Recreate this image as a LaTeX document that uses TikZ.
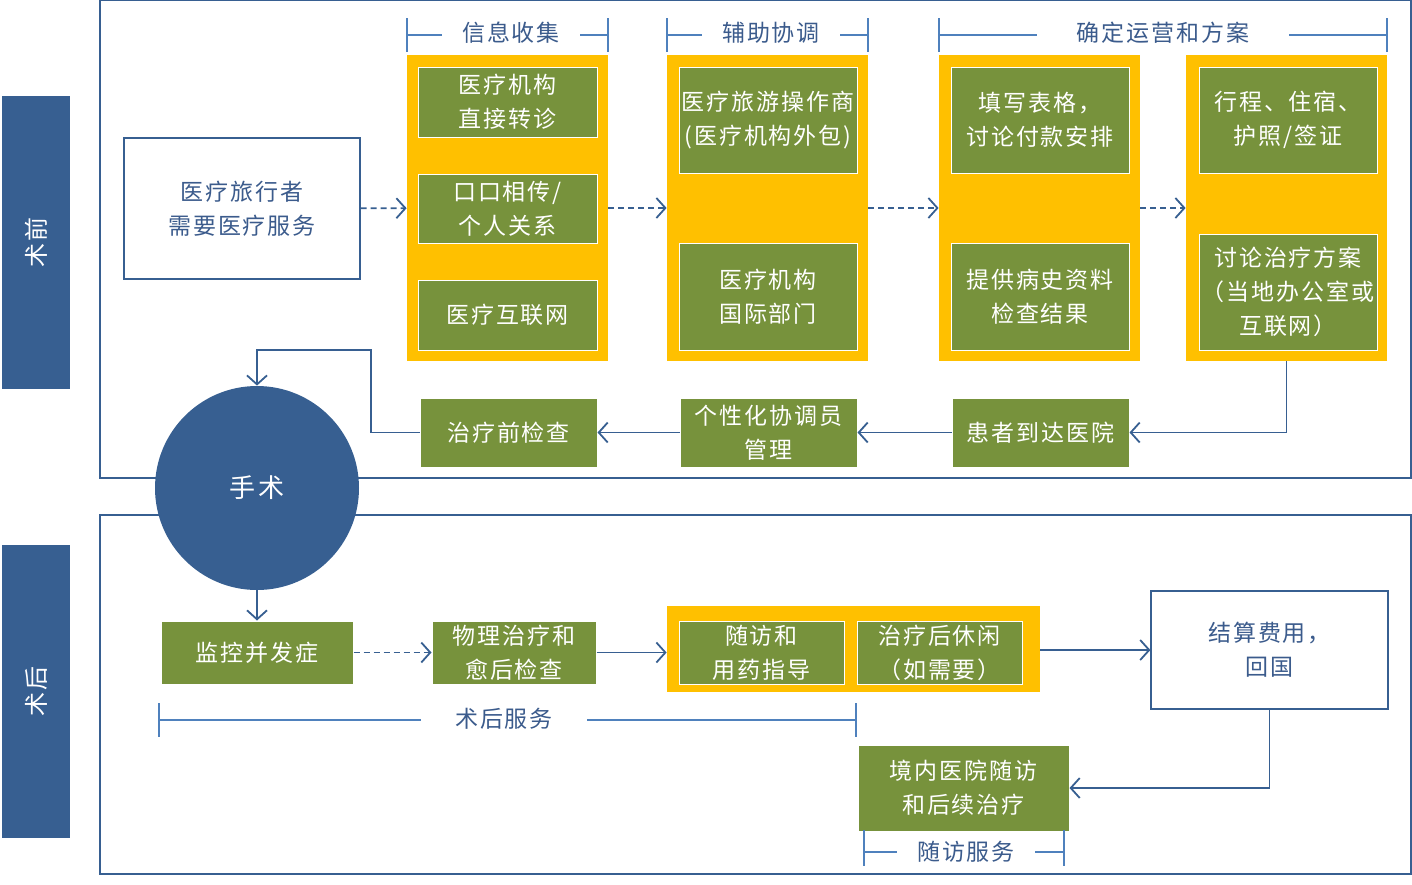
\documentclass[tikz,border=0pt]{standalone}
\usepackage{fontspec}
\setmainfont{Noto Sans CJK SC}[LetterSpace=8]
\usepackage{xcolor}
\usetikzlibrary{positioning,arrows.meta}

\definecolor{navy}{HTML}{375F91}
\definecolor{lineblue}{HTML}{4F81BD}
\definecolor{textblue}{HTML}{3B5B8C}
\definecolor{orangefill}{HTML}{FFC000}
\definecolor{olive}{HTML}{77923C}

\begin{document}
\begin{tikzpicture}[x=0.5pt,y=-0.5pt,
      size/.style 2 args={minimum width=#1pt,minimum height=#2pt},
      gbox/.style={rectangle,draw=white,line width=0.5pt,fill=olive,text=white,align=center,inner sep=0pt,font=\fontsize{11.5}{17}\selectfont},
      wbox/.style={rectangle,draw=navy,line width=0.6pt,fill=white,text=textblue,align=center,inner sep=0pt,font=\fontsize{11.5}{17}\selectfont},
      group/.style={rectangle,fill=orangefill,inner sep=0pt},
      sidebar/.style={rectangle,fill=navy,inner sep=0pt,text=white,font=\fontsize{12}{14}\selectfont},
      arrow/.style={-{Straight Barb[length=4.5pt,width=10pt]},draw=navy,line width=0.9pt},
      dasharrow/.style={arrow,dash pattern=on 3pt off 2pt},
      bracket/.style={draw=lineblue,line width=0.9pt},
      blabel/.style={fill=white,text=textblue,inner xsep=10pt,inner ysep=1pt,font=\fontsize{11.5}{14}\selectfont}
      ]

      \useasboundingbox (0,0) rectangle (1412,884);

      % frames
      \draw[navy,line width=0.6pt] (100,0) rectangle (1411,478);
      \draw[navy,line width=0.6pt] (100,515) rectangle (1411,874);

      % side labels
      \node[sidebar,size={34}{146.5}] (pre) at (36,242.5) {\rotatebox{90}{术前}};
      \node[sidebar,size={34}{146.5}] (post) at (36,691.5) {\rotatebox{90}{术后}};

      % before surgery
      \node[wbox,size={118}{70.5}] (traveler) at (242,208.5) {医疗旅行者\\需要医疗服务};

      \node[group,size={100.5}{153}] (grp1) at (507.5,208) {};
      \node[gbox,size={89.5}{35}] (referral) at (507.5,102) {医疗机构\\直接转诊};
      \node[gbox,size={89.5}{34.5}] (mouth) at (507.5,208.5) {口口相传/\\个人关系};
      \node[gbox,size={89.5}{35}] (internet) at (507.5,315) {医疗互联网};

      \node[group,size={100.5}{153}] (grp2) at (767.5,208) {};
      \node[gbox,size={89}{53}] (operator) at (768,120) {医疗旅游操作商\\(医疗机构外包)};
      \node[gbox,size={89}{53.5}] (intl) at (768,296.5) {医疗机构\\国际部门};

      \node[group,size={100.5}{153}] (grp3) at (1039.5,208) {};
      \node[gbox,size={89}{53}] (forms) at (1040,120) {填写表格，\\讨论付款安排};
      \node[gbox,size={89}{53.5}] (records) at (1040,296.5) {提供病史资料\\检查结果};

      \node[group,size={100.5}{153}] (grp4) at (1286.5,208) {};
      \node[gbox,size={89}{53}] (trip) at (1288,120) {行程、住宿、\\护照/签证};
      \node[gbox,size={89}{58}] (plan) at (1288,292) {讨论治疗方案\\（当地办公室或\\互联网）};

      % brackets
      \draw[bracket] (407,18) -- (407,52) (608,18) -- (608,52) (407,35) -- (608,35);
      \node[blabel] (info) at (511,33) {信息收集};
      \draw[bracket] (667,18) -- (667,52) (868,18) -- (868,52) (667,35) -- (868,35);
      \node[blabel] (assist) at (771,33) {辅助协调};
      \draw[bracket] (939,18) -- (939,52) (1387,18) -- (1387,52) (939,35) -- (1387,35);
      \node[blabel,inner xsep=20pt] (decide) at (1163,33) {确定运营和方案};

      \node[gbox,size={88.5}{34.5}] (precheck) at (508.5,432.5) {治疗前检查};
      \node[gbox,size={88.5}{34.5}] (coord) at (768.5,432.5) {个性化协调员\\管理};
      \node[gbox,size={88.5}{34.5}] (arrive) at (1040.5,432.5) {患者到达医院};

      \node[circle,fill=navy,minimum size=102pt,inner sep=0pt,text=white,font=\fontsize{13}{15}\selectfont] (surgery) at (257,488) {手术};

      \draw[dasharrow] (traveler) -- (grp1);
      \draw[dasharrow] (grp1) -- (grp2);
      \draw[dasharrow] (grp2) -- (grp3);
      \draw[dasharrow] (grp3) -- (grp4);
      \draw[arrow] (grp4.south) |- (arrive.east);
      \draw[arrow] (arrive) -- (coord);
      \draw[arrow] (coord) -- (precheck);
      \draw[arrow] (precheck.west) -| (371,350) -| (surgery.north);

      % after surgery
      \node[gbox,size={96}{31.5}] (monitor) at (257,652.5) {监控并发症};
      \node[gbox,size={82}{31.5}] (physio) at (514,652.5) {物理治疗和\\愈后检查};
      \node[group,size={186.5}{43}] (grp5) at (853.5,649) {};
      \node[gbox,size={82.5}{31.5}] (followup) at (761.5,652.5) {随访和\\用药指导};
      \node[gbox,size={82.5}{31.5}] (leisure) at (939.5,652.5) {治疗后休闲\\（如需要）};
      \node[wbox,size={118.5}{59}] (settle) at (1269.5,650) {结算费用，\\回国};
      \node[gbox,size={105.5}{43}] (domestic) at (963.5,788) {境内医院随访\\和后续治疗};

      \draw[arrow] (surgery.south) -- (monitor.north);
      \draw[dasharrow] (monitor) -- (physio);
      \draw[arrow] (physio.east) -- (physio.east -| grp5.west);
      \draw[arrow] (grp5.east |- settle.west) -- (settle.west);
      \draw[arrow] (settle.south) |- (domestic.east);

      \draw[bracket] (159,703) -- (159,737) (856,703) -- (856,737) (159,720) -- (856,720);
      \node[blabel,inner xsep=17pt] (postsvc) at (504,719) {术后服务};
      \draw[bracket] (864,830) -- (864,866) (1064,830) -- (1064,866) (864,852) -- (1064,852);
      \node[blabel] (visitsvc) at (966,852) {随访服务};

    \end{tikzpicture}
\end{document}
